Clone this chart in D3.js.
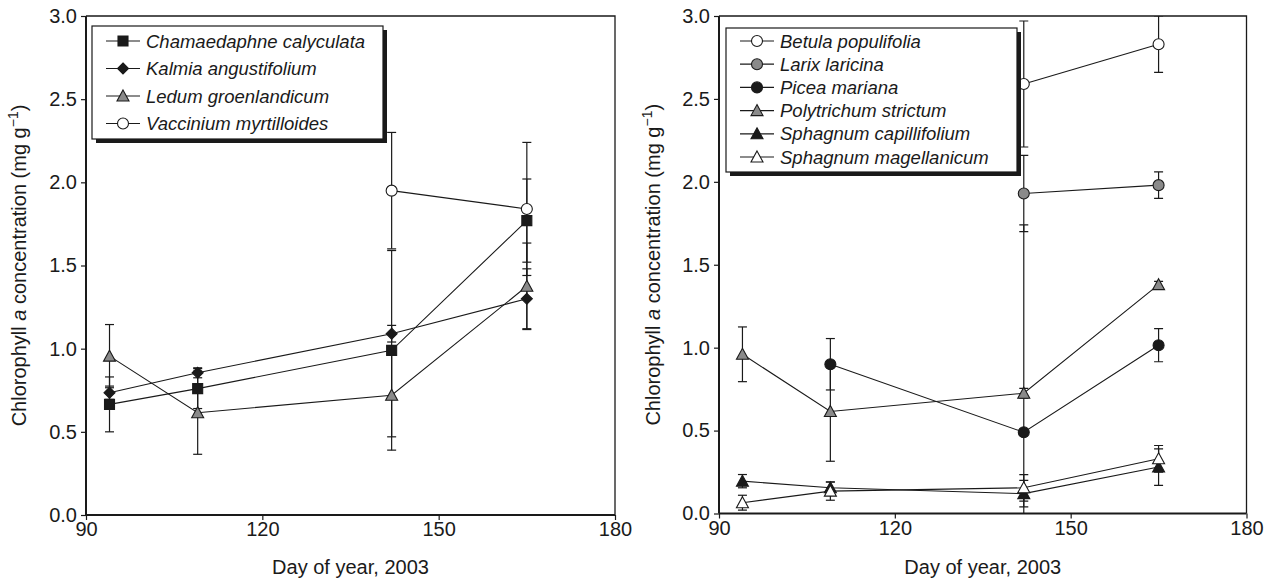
<!DOCTYPE html>
<html>
<head>
<meta charset="utf-8">
<script src="https://cdn.jsdelivr.net/npm/d3@7"></script>
<style>
  html, body { margin: 0; padding: 0; background: #fff; }
  svg { display: block; }
  text { font-family: "Liberation Sans", Arial, Helvetica, sans-serif; fill: #1a1a1a; }
</style>
</head>
<body>
<svg id="chart" width="1279" height="585"></svg>
<script>
// Sampling days (day of year, 2003)
const days = [94, 109, 142, 165];
const xTicks = [90, 120, 150, 180];
const yTicks = [0, 0.5, 1.0, 1.5, 2.0, 2.5, 3.0];

// Shrubs: mean chlorophyll a (mg g-1) and error
const chamaedaphne = [0.665, 0.76, 0.99, 1.77];
const chamaedaphneErr = [0.165, 0.12, 0.60, 0.25];
const kalmia = [0.735, 0.855, 1.09, 1.30];
const kalmiaErr = [0.04, 0.03, 0.05, 0.18];
const ledum = [0.955, 0.615, 0.72, 1.375];
const ledumErr = [0.19, 0.25, 0.25, 0.26];
const vaccinium = [null, null, 1.95, 1.84];
const vacciniumErr = [null, null, 0.35, 0.40];

// Trees and mosses
const betula = [null, null, 2.59, 2.83];
const betulaErr = [null, null, 0.38, 0.17];
const larix = [null, null, 1.93, 1.98];
const larixErr = [null, null, 0.23, 0.08];
const picea = [null, 0.90, 0.49, 1.015];
const piceaErr = [null, 0.155, 1.25, 0.10];
const polytrichum = [0.96, 0.615, 0.725, 1.38];
const polytrichumErr = [0.165, 0.30, 0.03, 0.02];
const sphCapillifolium = [0.195, 0.155, 0.12, 0.28];
const sphCapillifoliumErr = [0.04, 0.035, 0.08, 0.11];
const sphMagellanicum = [0.065, 0.135, 0.155, 0.33];
const sphMagellanicumErr = [0.045, 0.055, 0.08, 0.08];

const GRAY = "#8a8a8a";
const INK = "#1a1a1a";
const AXIS_FONT = 20;
const LEGEND_FONT = 18.5;

const leftSeries = [
  { name: "Chamaedaphne calyculata", v: chamaedaphne, e: chamaedaphneErr, shape: "square", fill: INK },
  { name: "Kalmia angustifolium", v: kalmia, e: kalmiaErr, shape: "diamond", fill: INK },
  { name: "Ledum groenlandicum", v: ledum, e: ledumErr, shape: "triangle", fill: GRAY },
  { name: "Vaccinium myrtilloides", v: vaccinium, e: vacciniumErr, shape: "circle", fill: "#fff" }
];
const rightSeries = [
  { name: "Betula populifolia", v: betula, e: betulaErr, shape: "circle", fill: "#fff" },
  { name: "Larix laricina", v: larix, e: larixErr, shape: "circle", fill: GRAY },
  { name: "Picea mariana", v: picea, e: piceaErr, shape: "circle", fill: INK },
  { name: "Polytrichum strictum", v: polytrichum, e: polytrichumErr, shape: "triangle", fill: GRAY },
  { name: "Sphagnum capillifolium", v: sphCapillifolium, e: sphCapillifoliumErr, shape: "triangle", fill: INK },
  { name: "Sphagnum magellanicum", v: sphMagellanicum, e: sphMagellanicumErr, shape: "triangle", fill: "#fff" }
];

const svg = d3.select("#chart");

function markerPath(shape) {
  switch (shape) {
    case "square": return d3.symbol(d3.symbolSquare, 100)();
    case "diamond": return "M0,-5.5L5.5,0L0,5.5L-5.5,0Z";
    case "triangle": return "M0,-6L6,5L-6,5Z";
    default: return d3.symbol(d3.symbolCircle, 95)();
  }
}

function drawPanel(cfg) {
  const x = d3.scaleLinear().domain([90, 180]).range([cfg.x0, cfg.x1]);
  const y = d3.scaleLinear().domain([0, 3]).range([cfg.y0, cfg.y1]);
  const g = svg.append("g");
  const clipId = "clip" + cfg.id;
  svg.append("clipPath").attr("id", clipId)
    .append("rect").attr("x", cfg.x0).attr("y", cfg.y1)
    .attr("width", cfg.x1 - cfg.x0).attr("height", cfg.y0 - cfg.y1);

  // frame: top and right edges
  g.append("path")
    .attr("d", `M${cfg.x0},${cfg.y1}H${cfg.x1}V${cfg.y0}`)
    .attr("fill", "none").attr("stroke", INK).attr("stroke-width", 1.3);

  const xAxis = g.append("g").attr("transform", `translate(0,${cfg.y0})`)
    .call(d3.axisBottom(x).tickValues(xTicks).tickSize(5).tickPadding(2).tickFormat(d3.format("d")));
  const yAxis = g.append("g").attr("transform", `translate(${cfg.x0},0)`)
    .call(d3.axisLeft(y).tickValues(yTicks).tickSize(5).tickPadding(4).tickFormat(d3.format(".1f")));
  [xAxis, yAxis].forEach(a => {
    a.select(".domain").attr("stroke", INK).attr("stroke-width", 2);
    a.selectAll(".tick line").attr("stroke", INK).attr("stroke-width", 1.2);
    a.selectAll(".tick text").attr("font-size", AXIS_FONT).attr("fill", INK)
      .style("font-family", '"Liberation Sans", Arial, sans-serif');
  });
  xAxis.select(".domain").attr("d", `M${cfg.x0},0H${cfg.x1}`);
  yAxis.select(".domain").attr("d", `M0,${cfg.y0}V${cfg.y1}`);

  // axis titles
  g.append("text")
    .attr("x", (cfg.x0 + cfg.x1) / 2).attr("y", 574)
    .attr("text-anchor", "middle").attr("font-size", AXIS_FONT)
    .text("Day of year, 2003");

  const yl = g.append("text")
    .attr("transform", `translate(${cfg.ylx},${(cfg.y0 + cfg.y1) / 2}) rotate(-90)`)
    .attr("text-anchor", "middle").attr("font-size", AXIS_FONT);
  yl.append("tspan").text("Chlorophyll ");
  yl.append("tspan").attr("font-style", "italic").text("a");
  yl.append("tspan").text(" concentration (mg g");
  yl.append("tspan").attr("font-size", 14).attr("dy", -8).text("\u22121");
  yl.append("tspan").attr("dy", 8).text(")");

  const plot = g.append("g").attr("clip-path", `url(#${clipId})`);
  const marks = g.append("g");

  cfg.series.forEach(s => {
    const pts = days.map((d, i) => ({ d, v: s.v[i], e: s.e[i] })).filter(p => p.v != null);
    // error bars
    pts.forEach(p => {
      if (!p.e) return;
      const xp = x(p.d), ya = y(p.v + p.e), yb = y(p.v - p.e);
      plot.append("line").attr("x1", xp).attr("x2", xp).attr("y1", ya).attr("y2", yb)
        .attr("stroke", INK).attr("stroke-width", 1.2);
      [p.v + p.e, p.v - p.e].forEach(val => {
        if (val < 0 || val > 3.01) return;
        plot.append("line").attr("x1", xp - 4.5).attr("x2", xp + 4.5)
          .attr("y1", y(val)).attr("y2", y(val))
          .attr("stroke", INK).attr("stroke-width", 1.2);
      });
    });
    // connecting line
    plot.append("path")
      .datum(pts)
      .attr("d", d3.line().x(p => x(p.d)).y(p => y(p.v)))
      .attr("fill", "none").attr("stroke", INK).attr("stroke-width", 1.1);
  });
  cfg.series.forEach(s => {
    const pts = days.map((d, i) => ({ d, v: s.v[i] })).filter(p => p.v != null);
    marks.selectAll(null).data(pts).enter().append("path")
      .attr("transform", p => `translate(${x(p.d)},${y(p.v)})`)
      .attr("d", markerPath(s.shape))
      .attr("fill", s.fill).attr("stroke", INK).attr("stroke-width", 1.1);
  });

  // legend with drop shadow
  const L = cfg.legend;
  const lg = g.append("g");
  lg.append("rect").attr("x", L.x + 4).attr("y", L.y + 4).attr("width", L.w).attr("height", L.h)
    .attr("fill", INK);
  lg.append("rect").attr("x", L.x).attr("y", L.y).attr("width", L.w).attr("height", L.h)
    .attr("fill", "#fff").attr("stroke", INK).attr("stroke-width", 1.2);
  cfg.series.forEach((s, i) => {
    const cy = L.y + L.first + i * L.step;
    lg.append("line").attr("x1", L.x + 14).attr("x2", L.x + 48).attr("y1", cy).attr("y2", cy)
      .attr("stroke", INK).attr("stroke-width", 1.2);
    lg.append("path").attr("transform", `translate(${L.x + 31},${cy})`)
      .attr("d", markerPath(s.shape)).attr("fill", s.fill).attr("stroke", INK).attr("stroke-width", 1.1);
    lg.append("text").attr("x", L.x + 54).attr("y", cy + 6.5)
      .attr("font-size", LEGEND_FONT).attr("font-style", "italic").text(s.name);
  });
}

drawPanel({
  id: "L", x0: 86, x1: 615, y0: 515, y1: 16, ylx: 26,
  series: leftSeries,
  legend: { x: 92, y: 26, w: 291, h: 113, first: 15, step: 27.5 }
});
drawPanel({
  id: "R", x0: 719, x1: 1246.5, y0: 513.5, y1: 16, ylx: 660,
  series: rightSeries,
  legend: { x: 726, y: 28, w: 291, h: 144, first: 13, step: 23.2 }
});
</script>
</body>
</html>
